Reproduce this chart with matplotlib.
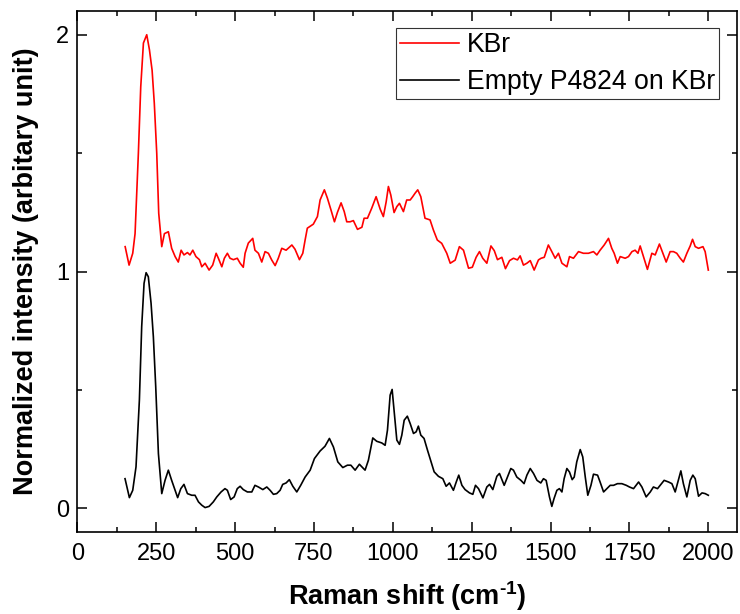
import matplotlib
matplotlib.use("Agg")
import matplotlib.pyplot as plt
from matplotlib.ticker import MultipleLocator

# ---- data ----
kbr_x = [151.6, 164, 175.6, 183, 193.5, 201, 209.5, 220, 228.5, 237, 244, 251.7, 258, 267.6,
         276, 288.5, 299, 310, 320, 329, 338, 349, 357, 366, 376, 387, 394.5, 405, 417.6, 429,
         440, 447, 458, 466, 475.6, 484, 494.6, 507, 516, 526, 531.7, 542, 556, 563, 574, 584.6,
         595, 605.6, 616, 627, 637, 648, 661.7, 680, 690, 704, 714.6, 722, 729, 748, 761, 769.5,
         783, 792.6, 804, 815, 824.5, 836, 846, 854, 864.6, 875, 888, 902, 909, 919.6, 933, 947,
         960, 970, 979, 986, 993.6, 1004, 1012.7, 1021, 1033.6, 1044, 1055, 1063, 1070.7, 1079,
         1088.7, 1102, 1118, 1128.7, 1141, 1155, 1171, 1182, 1197.6, 1211, 1224, 1240, 1252, 1264,
         1274.6, 1285, 1298, 1311, 1321.6, 1331.7, 1345.6, 1357, 1370, 1382.4, 1395, 1403.6, 1414,
         1425, 1435.6, 1448, 1461.6, 1470, 1480, 1493, 1504, 1514.6, 1525, 1536, 1551.7, 1560,
         1572.6, 1588.5, 1604, 1620, 1636, 1646.7, 1657, 1670, 1683.6, 1694, 1701.6, 1712, 1720.7,
         1736.5, 1747, 1758, 1768, 1777, 1784, 1794.6, 1807, 1821, 1831.6, 1845, 1856, 1866.5,
         1879, 1889.6, 1900, 1911, 1921, 1932, 1942.6, 1950, 1958.5, 1969, 1983, 1990, 2000]
kbr_y = [1.105, 1.027, 1.077, 1.16, 1.50, 1.78, 1.965, 2.0, 1.937, 1.85, 1.71, 1.50, 1.246, 1.105,
         1.16, 1.168, 1.098, 1.063, 1.04, 1.09, 1.07, 1.08, 1.07, 1.09, 1.063, 1.05, 1.02, 1.035,
         1.006, 1.027, 1.077, 1.056, 1.02, 1.056, 1.077, 1.056, 1.05, 1.056, 1.035, 1.018, 1.077,
         1.12, 1.14, 1.09, 1.077, 1.04, 1.084, 1.077, 1.049, 1.025, 1.056, 1.098, 1.09, 1.112,
         1.094, 1.05, 1.077, 1.133, 1.183, 1.20, 1.232, 1.302, 1.345, 1.31, 1.26, 1.21, 1.25, 1.29,
         1.253, 1.21, 1.21, 1.215, 1.178, 1.187, 1.225, 1.225, 1.267, 1.316, 1.263, 1.232, 1.295,
         1.359, 1.323, 1.249, 1.274, 1.288, 1.253, 1.302, 1.302, 1.316, 1.331, 1.345, 1.316, 1.225,
         1.218, 1.175, 1.133, 1.119, 1.077, 1.035, 1.048, 1.105, 1.09, 1.014, 1.018, 1.06, 1.084,
         1.056, 1.035, 1.108, 1.088, 1.05, 1.06, 1.012, 1.046, 1.056, 1.049, 1.066, 1.027, 1.035,
         1.046, 1.006, 1.049, 1.056, 1.06, 1.112, 1.084, 1.056, 1.077, 1.035, 1.02, 1.063, 1.056,
         1.084, 1.077, 1.077, 1.084, 1.07, 1.09, 1.112, 1.14, 1.098, 1.077, 1.035, 1.063, 1.056,
         1.063, 1.084, 1.09, 1.077, 1.108, 1.063, 1.009, 1.077, 1.07, 1.116, 1.077, 1.04, 1.084,
         1.084, 1.077, 1.056, 1.04, 1.077, 1.108, 1.136, 1.105, 1.098, 1.105, 1.084, 1.006]

p4824_x = [151.2, 165, 175.6, 186, 196.7, 204, 211.5, 218, 225, 233.7, 241, 248.5, 257, 267.6,
           278, 288.5, 299, 310, 318, 328, 338, 349, 362.7, 373, 384, 394.5, 405, 417.6, 431, 442,
           455.6, 468, 475.6, 486, 497, 507, 516, 526, 539, 553, 563, 574, 588, 600.5, 611, 621.5,
           632, 642.7, 651, 661.7, 672, 683, 695.6, 708, 722, 738, 751.5, 769.5, 785, 799, 811.7,
           825.6, 841.5, 856, 867, 880.5, 894, 912, 922.6, 936.5, 949, 965, 975.6, 983, 991.5,
           997.8, 1005, 1012.7, 1021, 1028.5, 1036, 1046, 1055, 1065.5, 1074, 1081, 1088.7, 1099,
           1110, 1120.5, 1131, 1144.6, 1158.5, 1169, 1179.5, 1192, 1201, 1209, 1219, 1229, 1243,
           1253.6, 1262, 1271.6, 1285.6, 1298, 1306.6, 1317, 1329.7, 1338, 1353, 1363.5, 1374,
           1382.4, 1393, 1406, 1416, 1425, 1435.6, 1446, 1457, 1469, 1477.5, 1486, 1496.5, 1504,
           1511, 1520, 1528, 1536, 1543, 1551.7, 1560, 1568.5, 1575, 1583, 1594, 1602, 1610, 1618,
           1628, 1636, 1649, 1657, 1668, 1678.5, 1689, 1699.6, 1712, 1726, 1740, 1750, 1763, 1779,
           1789.5, 1803, 1816, 1826, 1839, 1849.7, 1860, 1874, 1884.6, 1895, 1903.6, 1913, 1921,
           1932, 1942.6, 1951, 1958.5, 1969, 1980, 1990, 2000]
p4824_y = [0.125, 0.045, 0.076, 0.175, 0.457, 0.767, 0.95, 0.995, 0.978, 0.866, 0.724, 0.513,
           0.231, 0.062, 0.118, 0.161, 0.118, 0.076, 0.045, 0.083, 0.101, 0.062, 0.055, 0.055,
           0.027, 0.013, 0.003, 0.008, 0.027, 0.048, 0.069, 0.083, 0.076, 0.037, 0.048, 0.083,
           0.093, 0.079, 0.069, 0.069, 0.097, 0.09, 0.079, 0.09, 0.076, 0.059, 0.062, 0.076, 0.101,
           0.107, 0.121, 0.093, 0.069, 0.097, 0.132, 0.161, 0.21, 0.242, 0.262, 0.295, 0.259,
           0.196, 0.172, 0.182, 0.182, 0.161, 0.186, 0.161, 0.203, 0.297, 0.283, 0.276, 0.266,
           0.33, 0.478, 0.502, 0.40, 0.288, 0.27, 0.309, 0.372, 0.389, 0.358, 0.316, 0.323, 0.347,
           0.309, 0.295, 0.245, 0.20, 0.154, 0.135, 0.125, 0.093, 0.107, 0.076, 0.111, 0.14,
           0.097, 0.079, 0.065, 0.059, 0.097, 0.083, 0.044, 0.09, 0.101, 0.079, 0.135, 0.147,
           0.097, 0.132, 0.168, 0.161, 0.132, 0.118, 0.104, 0.14, 0.168, 0.147, 0.118, 0.107,
           0.125, 0.118, 0.048, 0.008, 0.041, 0.076, 0.083, 0.069, 0.125, 0.168, 0.153, 0.121,
           0.132, 0.196, 0.248, 0.217, 0.132, 0.055, 0.097, 0.144, 0.14, 0.111, 0.069, 0.083,
           0.097, 0.097, 0.104, 0.104, 0.097, 0.09, 0.083, 0.111, 0.09, 0.048, 0.069, 0.09, 0.083,
           0.101, 0.118, 0.111, 0.104, 0.069, 0.111, 0.158, 0.104, 0.048, 0.118, 0.14, 0.125,
           0.051, 0.065, 0.062, 0.055]

series_labels = ["KBr", "Empty P4824 on KBr"]
x_label = "Raman shift (cm$^{\\mathregular{\u2010}1}$)"
y_label = "Normalized intensity (arbitary unit)"

# ---- figure ----
plt.rcParams['font.family'] = ['Liberation Sans', 'DejaVu Sans']
plt.rcParams['mathtext.default'] = 'regular'
plt.rcParams['mathtext.fontset'] = 'custom'
plt.rcParams['mathtext.rm'] = 'Liberation Sans:bold'
plt.rcParams['mathtext.bf'] = 'Liberation Sans:bold'

fig = plt.figure(figsize=(7.40, 6.14), dpi=100)
ax = fig.add_axes([0.1045, 0.1336, 0.9964 - 0.1045, 0.982 - 0.1336])

ax.plot(kbr_x, kbr_y, color='#FF0000', lw=1.2, label=series_labels[0])
ax.plot(p4824_x, p4824_y, color='black', lw=1.2, label=series_labels[1])

ax.set_xlim(0, 2092)
ax.set_ylim(-0.1, 2.1)
ax.xaxis.set_major_locator(MultipleLocator(250))
ax.xaxis.set_minor_locator(MultipleLocator(125))
ax.yaxis.set_major_locator(MultipleLocator(1))
ax.yaxis.set_minor_locator(MultipleLocator(0.5))
ax.tick_params(which='both', direction='in', top=True, right=True, width=1.1)
ax.tick_params(which='major', length=7, labelsize=17)
ax.tick_params(which='minor', length=3.5)
ax.tick_params(axis='x', which='major', pad=8)
ax.tick_params(axis='y', which='major', pad=6)
for s in ax.spines.values():
    s.set_linewidth(1.2)

ax.set_xlabel(x_label, fontsize=19.5, fontweight='bold', labelpad=10)
ax.set_ylabel(y_label, fontsize=19.5, fontweight='bold', labelpad=12)

leg = ax.legend(loc='upper right', bbox_to_anchor=(719.3 / 740, 1 - 28.3 / 614),
                bbox_transform=fig.transFigure, fontsize=19.2, frameon=True, fancybox=False,
                borderaxespad=0, borderpad=0.15, handlelength=2.2, handletextpad=0.3,
                labelspacing=0.4)
leg.get_frame().set_edgecolor('black')
leg.get_frame().set_linewidth(0.8)
for h in leg.get_lines():
    h.set_linewidth(1.2)

fig.savefig("out.png", dpi=100)
